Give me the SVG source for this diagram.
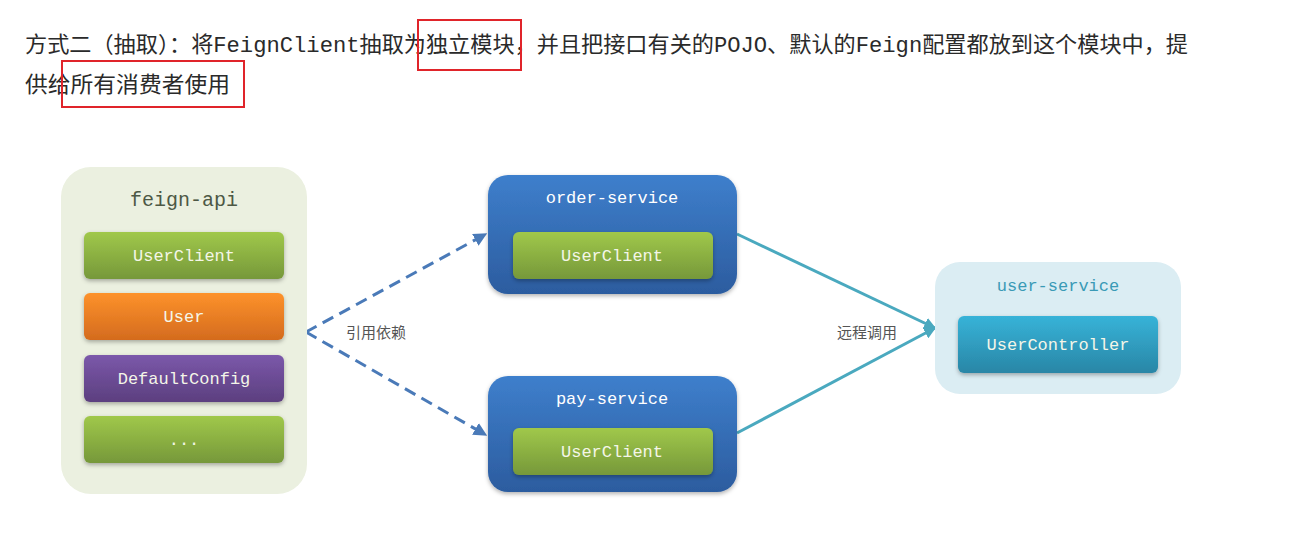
<svg xmlns="http://www.w3.org/2000/svg" width="1292" height="543" viewBox="0 0 1292 543">
<style>
.hdr{font-family:"Liberation Mono","Noto Sans CJK SC",monospace;font-size:22px;fill:#2a2a2a}
.mono{font-family:"Liberation Mono","DejaVu Sans Mono",monospace;text-anchor:middle}
.lbl{font-size:17px;fill:#f4f6e8}
.ttl{font-size:20px}
.cn{font-family:"Noto Sans CJK SC",sans-serif;font-size:15px;fill:#555}
.red{fill:none;stroke:#e0242a;stroke-width:2}
</style>
<defs>
<linearGradient id="gGreen" x1="0" y1="0" x2="0" y2="1"><stop offset="0" stop-color="#a0c84a"/><stop offset="1" stop-color="#76983a"/></linearGradient>
<linearGradient id="gOrange" x1="0" y1="0" x2="0" y2="1"><stop offset="0" stop-color="#fd922b"/><stop offset="1" stop-color="#d46b1e"/></linearGradient>
<linearGradient id="gPurple" x1="0" y1="0" x2="0" y2="1"><stop offset="0" stop-color="#7b58aa"/><stop offset="1" stop-color="#5c3f7f"/></linearGradient>
<linearGradient id="gBlue" x1="0" y1="0" x2="0" y2="1"><stop offset="0" stop-color="#3e7fcc"/><stop offset="1" stop-color="#2c5c9f"/></linearGradient>
<linearGradient id="gTeal" x1="0" y1="0" x2="0" y2="1"><stop offset="0" stop-color="#37b3d8"/><stop offset="1" stop-color="#2986a6"/></linearGradient>
<filter id="sh" x="-10%" y="-10%" width="120%" height="140%"><feDropShadow dx="0" dy="2" stdDeviation="2" flood-color="#000" flood-opacity="0.3"/></filter>
<marker id="aBlue" viewBox="0 0 10 10" refX="9" refY="5" markerWidth="4.5" markerHeight="4.5" orient="auto"><path d="M0,0 L10,5 L0,10 z" fill="#4a7ab8"/></marker>
<marker id="aTeal" viewBox="0 0 10 10" refX="9" refY="5" markerWidth="4" markerHeight="4" orient="auto"><path d="M0,0 L10,5 L0,10 z" fill="#4aa9bf"/></marker>
</defs>

<g id="header">
<text class="hdr" x="25" y="52" textLength="1163" lengthAdjust="spacingAndGlyphs">方式二（抽取）：将FeignClient抽取为独立模块，并且把接口有关的POJO、默认的Feign配置都放到这个模块中，提</text>
<text class="hdr" x="25" y="92" textLength="205" lengthAdjust="spacingAndGlyphs">供给所有消费者使用</text>
<rect class="red" x="418" y="20" width="103" height="50"/>
<rect class="red" x="62" y="61" width="182" height="46"/>
</g>

<g id="connectors">
<path d="M306,332 L486,234" fill="none" stroke="#4a7ab8" stroke-width="3" stroke-dasharray="12,7" marker-end="url(#aBlue)"/>
<path d="M306,332 L486,435" fill="none" stroke="#4a7ab8" stroke-width="3" stroke-dasharray="12,7" marker-end="url(#aBlue)"/>
<path d="M737,234 L935,328" fill="none" stroke="#4aa9bf" stroke-width="3" marker-end="url(#aTeal)"/>
<path d="M737,433 L935,328" fill="none" stroke="#4aa9bf" stroke-width="3" marker-end="url(#aTeal)"/>
<text class="cn" x="346" y="338">引用依赖</text>
<text class="cn" x="837" y="338">远程调用</text>
</g>

<g id="feign-api">
<rect x="61" y="167" width="246" height="327" rx="30" fill="#ebf0e0"/>
<text class="mono ttl" x="184" y="206" fill="#4d5845">feign-api</text>
<g id="fa-userclient"><rect x="84" y="232" width="200" height="47" rx="6" fill="url(#gGreen)" filter="url(#sh)"/><text class="mono lbl" x="184" y="261">UserClient</text></g>
<g id="fa-user"><rect x="84" y="293" width="200" height="47" rx="6" fill="url(#gOrange)" filter="url(#sh)"/><text class="mono lbl" x="184" y="322">User</text></g>
<g id="fa-defaultconfig"><rect x="84" y="355" width="200" height="47" rx="6" fill="url(#gPurple)" filter="url(#sh)"/><text class="mono lbl" x="184" y="384">DefaultConfig</text></g>
<g id="fa-more"><rect x="84" y="416" width="200" height="47" rx="6" fill="url(#gGreen)" filter="url(#sh)"/><text class="mono lbl" x="184" y="445">...</text></g>
</g>

<g id="order-service">
<rect x="488" y="175" width="249" height="119" rx="20" fill="url(#gBlue)" filter="url(#sh)"/>
<text class="mono" x="612" y="203" font-size="17" fill="#ffffff">order-service</text>
<g id="os-userclient"><rect x="513" y="232" width="200" height="47" rx="6" fill="url(#gGreen)" filter="url(#sh)"/><text class="mono lbl" x="612" y="261">UserClient</text></g>
</g>

<g id="pay-service">
<rect x="488" y="376" width="249" height="116" rx="20" fill="url(#gBlue)" filter="url(#sh)"/>
<text class="mono" x="612" y="404" font-size="17" fill="#ffffff">pay-service</text>
<g id="ps-userclient"><rect x="513" y="428" width="200" height="47" rx="6" fill="url(#gGreen)" filter="url(#sh)"/><text class="mono lbl" x="612" y="457">UserClient</text></g>
</g>

<g id="user-service">
<rect x="935" y="262" width="246" height="132" rx="25" fill="#dbedf3"/>
<text class="mono" x="1058" y="291" font-size="17" fill="#3a9ab6">user-service</text>
<g id="us-usercontroller"><rect x="958" y="316" width="200" height="57" rx="6" fill="url(#gTeal)" filter="url(#sh)"/><text class="mono lbl" x="1058" y="350">UserController</text></g>
</g>
</svg>
